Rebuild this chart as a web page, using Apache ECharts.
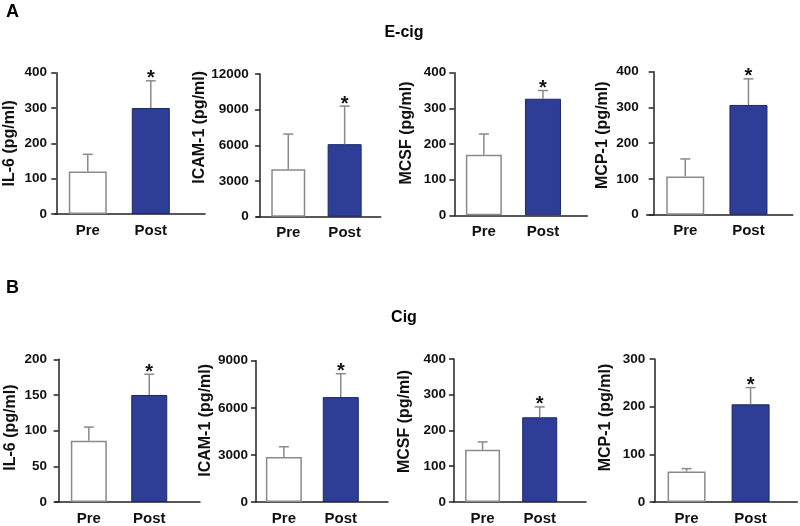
<!DOCTYPE html>
<head>
    <meta charset="utf-8"/>
    <style>
        html,body { height:100%; width:100%; margin:0; padding:0; background:#fff; }
    </style>
</head>
<body>

<div id="chart" style="width:800px;height:526px;"></div>

<script src="https://cdn.jsdelivr.net/npm/echarts@6/dist/echarts.min.js"></script>
<script type="text/javascript">

 // categories and markers
 var categories = ['Pre', 'Post'];
 var markers = ['IL-6', 'ICAM-1', 'MCSF', 'MCP-1'];
 var unitText = ' (pg/ml)';
 var significant = [false, true];

 // panel A : E-cig
 var ecigMean  = [[120, 300], [4000, 6100], [170, 327], [107, 307]];
 var ecigUpper = [[169, 377], [6950, 9300], [228, 350], [156, 380]];
 var ecigMax   = [400, 12000, 400, 400];
 var ecigStep  = [100, 3000, 100, 100];

 // panel B : Cig
 var cigMean  = [[86, 150], [2870, 6680], [146, 237], [64, 205]];
 var cigUpper = [[105, 179], [3520, 8170], [168, 266], [70, 240]];
 var cigMax   = [200, 9000, 400, 300];
 var cigStep  = [50, 3000, 100, 100];

 // layout of the 8 little plots (pixels)
 var layout = [
    {left: 55,    top: 72.7,  width: 150, height: 141.3, xMin: -0.02, xMax: 2.36, barW: 38, gap: 37, shift: 0},
    {left: 256.7, top: 74,    width: 124, height: 142.7, xMin: -0.06, xMax: 2.14, barW: 34, gap: 43, shift: 18},
    {left: 454.3, top: 72.7,  width: 133, height: 142.6, xMin: 0,     xMax: 2.25, barW: 36, gap: 40, shift: 11},
    {left: 646.7, top: 71.7,  width: 146, height: 143,   xMin: -0.11, xMax: 2.2,  barW: 38, gap: 36, shift: 8},
    {left: 55,    top: 359.3, width: 145, height: 144,   xMin: -0.06, xMax: 2.34, barW: 36, gap: 36, shift: 3},
    {left: 256,   top: 360.7, width: 132, height: 143.3, xMin: 0.01,  xMax: 2.33, barW: 36, gap: 42, shift: 11},
    {left: 454,   top: 359,   width: 132, height: 143.7, xMin: 0,     xMax: 2.31, barW: 35, gap: 41, shift: 9},
    {left: 653.3, top: 359,   width: 144, height: 144.3, xMin: -0.02, xMax: 2.23, barW: 38, gap: 40, shift: 13}
 ];

 var FONT = '"Liberation Sans", Arial, sans-serif';
 var preStyle  = {color: '#ffffff', borderColor: '#8a8a8a', borderWidth: 1.5};
 var postStyle = {color: '#2e3d96', borderColor: '#1c2866', borderWidth: 1};

 function renderErr(params, api) {
    var x = api.value(0), m = api.value(1), u = api.value(2), star = api.value(3);
    var p0 = api.coord([x, m]);
    var p1 = api.coord([x, u]);
    var st = {stroke: '#8a8a8a', lineWidth: 1.5};
    var kids = [
        {type: 'line', shape: {x1: p0[0], y1: p0[1], x2: p1[0], y2: p1[1]}, style: st},
        {type: 'line', shape: {x1: p1[0] - 5, y1: p1[1], x2: p1[0] + 5, y2: p1[1]}, style: st}
    ];
    if (star) {
        kids.push({type: 'text', x: p1[0], y: p1[1] - 12,
            style: {text: '*', fill: '#111', font: 'bold 20px ' + FONT, align: 'center', verticalAlign: 'top'}});
    }
    return {type: 'group', children: kids};
 }

 var grids = [], xAxes = [], yAxes = [], series = [];

 function addPanel(idx, k, means, uppers, maxes, steps) {
    var L = layout[idx];
    grids.push({left: L.left, top: L.top, width: L.width, height: L.height});
    xAxes.push({
        type: 'value', gridIndex: idx, min: L.xMin, max: L.xMax,
        axisLine: {show: true, lineStyle: {color: '#222', width: 1.5}},
        axisTick: {show: false},
        splitLine: {show: false},
        axisLabel: {
            customValues: categories.map(function (c, j) { return j + 0.5; }),
            formatter: function (v) { return categories[Math.round(v - 0.5)]; },
            color: '#111', fontSize: 15, fontWeight: 'bold', fontFamily: FONT, margin: 9
        }
    });
    yAxes.push({
        type: 'value', gridIndex: idx, min: 0, max: maxes[k], interval: steps[k],
        name: markers[k] + unitText, nameLocation: 'middle', nameGap: L.gap,
        nameTextStyle: {color: '#111', fontSize: 16, fontWeight: 'bold', fontFamily: FONT,
                        padding: [0, 0, 0, L.shift * 2]},
        axisLine: {show: true, lineStyle: {color: '#222', width: 1.5}},
        axisTick: {show: true, length: 5, lineStyle: {color: '#222', width: 1.5}},
        splitLine: {show: false},
        axisLabel: {color: '#111', fontSize: 13.5, fontWeight: 'bold', fontFamily: FONT, margin: 8,
                    formatter: function (v) { return String(v); }}
    });
    series.push({
        type: 'bar', xAxisIndex: idx, yAxisIndex: idx, barWidth: L.barW,
        data: categories.map(function (c, j) {
            return {value: [j + 0.5, means[k][j]], itemStyle: j === 0 ? preStyle : postStyle};
        }),
        emphasis: {disabled: true}
    });
    series.push({
        type: 'custom', xAxisIndex: idx, yAxisIndex: idx, renderItem: renderErr, z: 5,
        encode: {x: 0, y: [1, 2]},
        data: categories.map(function (c, j) {
            return [j + 0.5, means[k][j], uppers[k][j], significant[j] ? 1 : 0];
        })
    });
 }

 for (var k = 0; k < 4; k++) {
    addPanel(k, k, ecigMean, ecigUpper, ecigMax, ecigStep);
 }
 for (var k2 = 0; k2 < 4; k2++) {
    addPanel(k2 + 4, k2, cigMean, cigUpper, cigMax, cigStep);
 }

 var txt = function (t, x, y, size, align) {
    return {type: 'text', x: x, y: y,
        style: {text: t, fill: '#000', font: 'bold ' + size + 'px ' + FONT, align: align, verticalAlign: 'middle'}};
 };

 var myChart = echarts.init(document.getElementById('chart'));
 myChart.setOption({
    animation: false,
    grid: grids,
    xAxis: xAxes,
    yAxis: yAxes,
    series: series,
    graphic: [
        txt('A', 6, 12, 18, 'left'),
        txt('E-cig', 404, 33, 16, 'center'),
        txt('B', 6, 288, 18, 'left'),
        txt('Cig', 404, 318, 16, 'center')
    ]
 });

</script>
</body>
